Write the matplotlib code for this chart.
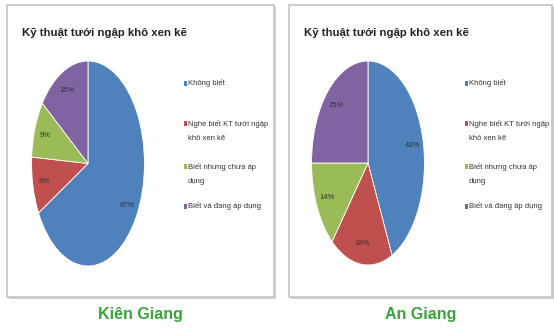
import numpy as np
import matplotlib
matplotlib.use('Agg')
import matplotlib.pyplot as plt
from matplotlib.patches import Rectangle

plt.rcParams['font.family'] = ['Liberation Sans', 'DejaVu Sans']

title = 'Kỹ thuật tưới ngập khô xen kẽ'
categories = ['Không biết', 'Nghe biết KT tưới ngập\nkhô xen kẽ',
              'Biết nhưng chưa áp\ndụng', 'Biết và đang áp dụng']
colors = ['#4F81BD', '#C0504D', '#9BBB59', '#8064A2']
regions = ['Kiên Giang', 'An Giang']
kien_giang = [67, 9, 9, 15]
an_giang = [43, 18, 14, 25]

W, H = 554, 329
fig = plt.figure(figsize=(W / 100, H / 100), dpi=100)
fig.patch.set_facecolor('white')

def box(x0, y0, x1, y1):
    # pixel box (top-left origin) -> figure fraction
    return [x0 / W, 1 - y1 / H, (x1 - x0) / W, (y1 - y0) / H]

panels = [(7, 5, 274, 297), (289, 5, 552, 297)]
pies = [(31, 60, 145, 267), (311, 60, 425, 266)]
legend_x = [185, 466]
legend_y = [83, 131, 174, 206]

for i, values in enumerate([kien_giang, an_giang]):
    px0, py0, px1, py1 = panels[i]
    # shadow + chart frame
    fig.patches.append(Rectangle(((px0 + 1.5) / W, 1 - (py1 + 2) / H), (px1 - px0) / W, (py1 - py0) / H,
                                 transform=fig.transFigure, facecolor='#d0d0d0', edgecolor='none', zorder=-2))
    fig.patches.append(Rectangle((px0 / W, 1 - py1 / H), (px1 - px0) / W, (py1 - py0) / H,
                                 transform=fig.transFigure, facecolor='white', edgecolor='#c4c4c4',
                                 linewidth=1.2, zorder=-1))

    fig.text((px0 + 15) / W, 1 - 33 / H, title, fontsize=8.2, fontweight='bold',
             color='#222222', va='center', ha='left')

    ax = fig.add_axes(box(*pies[i]))
    ax.patch.set_visible(False)
    wedges, texts, autotexts = ax.pie(values, colors=colors, startangle=90, counterclock=False,
                                      autopct='%d%%', pctdistance=0.8,
                                      wedgeprops=dict(edgecolor='white', linewidth=0.6),
                                      textprops=dict(fontsize=5.5, color='#333333'))
    ax.set_aspect('auto')
    ax.set_xlim(-1.01, 1.01)
    ax.set_ylim(-1.01, 1.01)

    for w, lab, y in zip(wedges, categories, legend_y):
        nlines = lab.count('\n') + 1
        ytop = y - (nlines - 1) * 8
        fig.patches.append(Rectangle(((legend_x[i] - 1.5) / W, 1 - (ytop + 2.5) / H), 3 / W, 5 / H,
                                     transform=fig.transFigure, facecolor=w.get_facecolor(),
                                     edgecolor='none'))
        fig.text((legend_x[i] + 3) / W, 1 - y / H, lab, fontsize=5.5, color='#333333',
                 va='center', ha='left', linespacing=2.4)

    fig.text(((px0 + px1) / 2) / W, 1 - 315 / H, regions[i], fontsize=11.5, fontweight='bold',
             color='#3AA33A', ha='center', va='center')

fig.savefig('out.png', dpi=100)
